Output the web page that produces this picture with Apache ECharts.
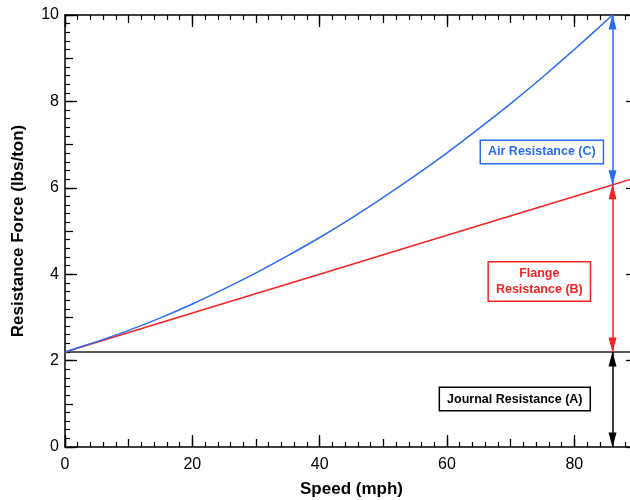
<!DOCTYPE html>
<html><head><meta charset="utf-8">
<script src="https://cdn.jsdelivr.net/npm/echarts@6/dist/echarts.min.js"></script>
<style>html,body{margin:0;padding:0;background:#fff}#c{width:630px;height:500px}</style>
</head><body><div id="c"></div>
<script>
// ---- data ----
const airSpeed = [0, 5, 10, 15, 20, 25, 30, 35, 40, 45, 50, 55, 60, 65, 70, 75, 80, 86];
const airTotal = [2.2, 2.44, 2.70, 2.99, 3.31, 3.66, 4.03, 4.43, 4.85, 5.30, 5.78, 6.28, 6.81, 7.37, 7.95, 8.56, 9.20, 10.0];
const flangeSpeed = [0, 20, 40, 60, 80, 90];
const flangeTotal = [2.2, 3.1, 4.0, 4.9, 5.8, 6.25];
const journalSpeed = [0, 90];
const journalLevel = [2.2, 2.2];
const arrowSpeed = 86;
const arrowLevels = [0, 2.2, 6.07, 10];
const labelTexts = ['Air Resistance (C)', 'Flange\nResistance (B)', 'Journal Resistance (A)'];
const labelAnchors = [[74.9, 6.83], [74.5, 3.83], [70.65, 1.11]];

const BLUE = '#2b6cf5', RED = '#f52323', BLACK = '#000';
const FONT = 'Liberation Sans, Arial, sans-serif';

const zip = (xs, ys) => xs.map((x, i) => [x, ys[i]]);

function xAx(pos, interval, len, withMinor, withLabel, withLine) {
  return {
    type: 'value', min: 0, max: 90, interval, position: pos,
    axisLine: { show: withLine, onZero: false, lineStyle: { color: BLACK, width: 1.5 } },
    axisTick: { show: true, inside: true, length: len, lineStyle: { color: BLACK, width: 1.3 } },
    minorTick: { show: withMinor, splitNumber: 5, length: 5, lineStyle: { color: BLACK, width: 1.2 } },
    splitLine: { show: false }, minorSplitLine: { show: false },
    axisLabel: withLabel ? { show: true, fontSize: 16, color: BLACK, fontFamily: FONT, margin: 10,
      formatter: v => (v % 20 === 0 ? String(v) : '') } : { show: false },
    name: withLabel ? 'Speed (mph)' : '', nameLocation: 'middle', nameGap: 34,
    nameTextStyle: { fontSize: 17, fontWeight: 'bold', color: BLACK, fontFamily: FONT }
  };
}
function yAx(pos, interval, len, withMinor, withLabel, withLine) {
  return {
    type: 'value', min: 0, max: 10, interval, position: pos,
    axisLine: { show: withLine, onZero: false, lineStyle: { color: BLACK, width: 1.5 } },
    axisTick: { show: true, inside: true, length: len, lineStyle: { color: BLACK, width: 1.3 } },
    minorTick: { show: withMinor, splitNumber: 5, length: 5, lineStyle: { color: BLACK, width: 1.2 } },
    splitLine: { show: false }, minorSplitLine: { show: false },
    axisLabel: withLabel ? { show: true, fontSize: 16, color: BLACK, fontFamily: FONT, margin: 6,
      formatter: v => (v % 2 === 0 ? String(v) : '') } : { show: false },
    name: withLabel ? 'Resistance Force (lbs/ton)' : '', nameLocation: 'middle', nameGap: 38,
    nameTextStyle: { fontSize: 17, fontWeight: 'bold', color: BLACK, fontFamily: FONT }
  };
}

function arrow(from, to, color) {
  return [{ coord: [arrowSpeed, from], lineStyle: { color, width: 1.5, type: 'solid' }, itemStyle: { color } },
          { coord: [arrowSpeed, to] }];
}
function markLineFor(from, to, color) {
  return { silent: true, symbol: ['triangle', 'triangle'], symbolSize: [8, 15],
    symbolOffset: [[0, 7], [0, 7]],
    lineStyle: { type: 'solid', width: 1.5, color },
    label: { show: false }, data: [arrow(from, to, color)] };
}
function boxLabel(i, color) {
  return {
    coord: labelAnchors[i], symbol: 'circle', symbolSize: 1,
    itemStyle: { color: 'rgba(0,0,0,0)' },
    label: { show: true, position: 'inside', formatter: labelTexts[i], color,
      fontFamily: FONT, fontWeight: 'bold', fontSize: 12.5, lineHeight: 16, align: 'center',
      backgroundColor: '#fff', borderColor: color, borderWidth: 1.5, padding: [3, 7, 3, 7] }
  };
}

const chart = echarts.init(document.getElementById('c'), null, { renderer: 'canvas' });
chart.setOption({
  animation: false,
  backgroundColor: '#fff',
  grid: { left: 65, top: 15, width: 573, height: 432, containLabel: false, outerBoundsMode: 'none' },
  xAxis: [xAx('bottom', 10, 8, true, true, true), xAx('bottom', 20, 12, false, false, false),
          xAx('top', 10, 8, true, false, true), xAx('top', 20, 12, false, false, false)],
  yAxis: [yAx('left', 1, 8, true, true, true), yAx('left', 2, 12, false, false, false),
          yAx('right', 1, 8, true, false, true), yAx('right', 2, 12, false, false, false)],
  series: [
    { type: 'line', data: zip(journalSpeed, journalLevel), showSymbol: false,
      lineStyle: { color: '#222', width: 1.5 }, z: 3,
      markLine: markLineFor(arrowLevels[0], arrowLevels[1], BLACK),
      markPoint: { silent: true, data: [boxLabel(2, BLACK)] } },
    { type: 'line', data: zip(flangeSpeed, flangeTotal), showSymbol: false,
      lineStyle: { color: RED, width: 1.5 }, z: 4,
      markLine: markLineFor(arrowLevels[1], arrowLevels[2], RED),
      markPoint: { silent: true, data: [boxLabel(1, RED)] } },
    { type: 'line', data: zip(airSpeed, airTotal), showSymbol: false, smooth: 0.2,
      lineStyle: { color: BLUE, width: 1.5 }, z: 5,
      markLine: markLineFor(arrowLevels[2], arrowLevels[3], BLUE),
      markPoint: { silent: true, data: [boxLabel(0, BLUE)] } }
  ]
});
</script></body></html>
